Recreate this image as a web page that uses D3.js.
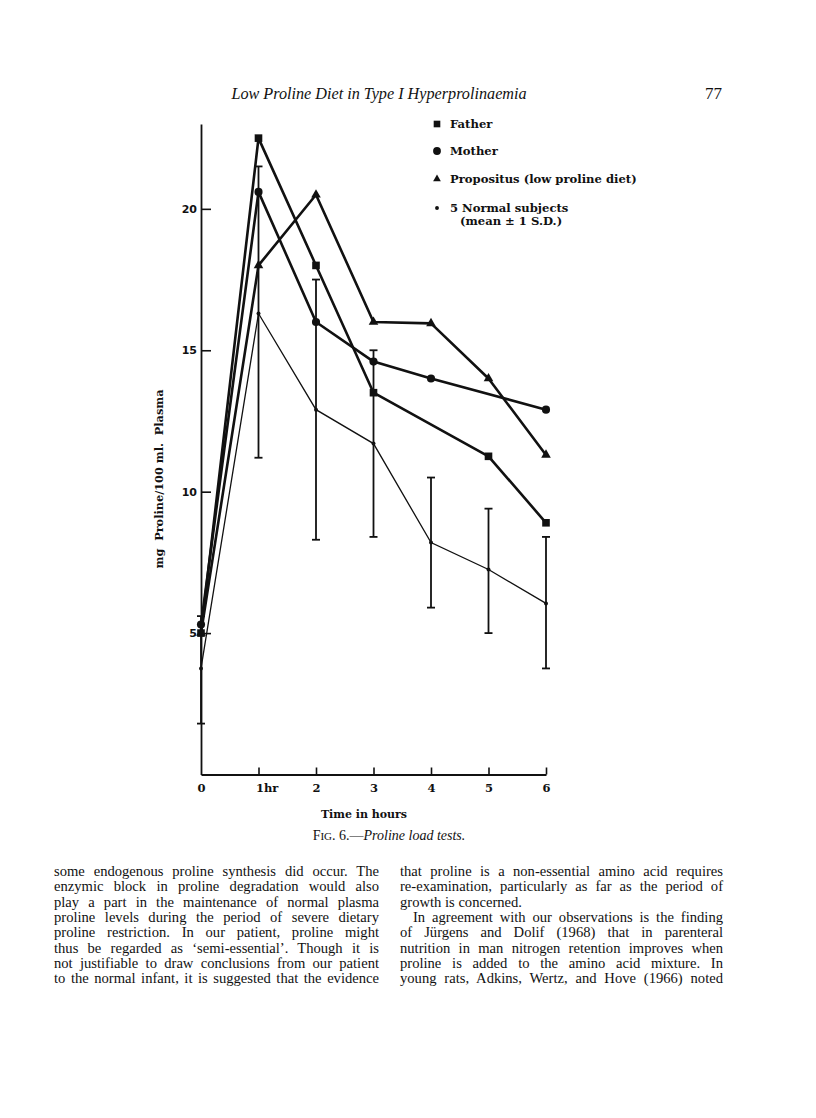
<!DOCTYPE html>
<html>
<head>
<meta charset="utf-8">
<script src="https://cdn.jsdelivr.net/npm/d3@7"></script>
<style>
  body { margin: 0; background: #fff; }
  svg { display: block; }
  text { fill: #111; }
</style>
</head>
<body>
<div id="page"></div>
<script>
// Values (mg proline / 100 ml plasma)
const hours = [0, 1, 2, 3, 4, 5, 6];
const father = [5.0, 22.5, 18.0, 13.5, null, 11.25, 8.9];
const mother = [5.3, 20.6, 16.0, 14.6, 14.0, null, 12.9];
const propositus = [5.0, 18.0, 20.5, 16.0, 15.95, 14.0, 11.3];
const normalMean = [3.75, 16.3, 12.9, 11.7, 8.2, 7.25, 6.05];
const normalLow = [1.8, 11.2, 8.3, 8.4, 5.9, 5.0, 3.75];
const normalHigh = [5.6, 21.5, 17.5, 15.0, 10.5, 9.4, 8.4];

const yTicks = [5, 10, 15, 20];
const xTickLabels = ["0", "1hr", "2", "3", "4", "5", "6"];
const legendLabels = ["Father", "Mother", "Propositus (low proline diet)", "5 Normal subjects"];

const leftColumn = [
  "some endogenous proline synthesis did occur.   The",
  "enzymic block in proline degradation would also",
  "play a part in the maintenance of normal plasma",
  "proline levels during the period of severe dietary",
  "proline restriction.  In our patient, proline might",
  "thus be regarded as \u2018semi-essential\u2019.  Though it is",
  "not justifiable to draw conclusions from our patient",
  "to the normal infant, it is suggested that the evidence"
];
const rightColumn = [
  "that proline is a non-essential amino acid requires",
  "re-examination, particularly as far as the period of",
  "growth is concerned.",
  "In agreement with our observations is the finding",
  "of J\u00fcrgens and Dolif (1968) that in parenteral",
  "nutrition in man nitrogen retention improves when",
  "proline is added to the amino acid mixture.  In",
  "young rats, Adkins, Wertz, and Hove (1966) noted"
];

const W = 816, H = 1118;
const serif = "'Liberation Serif', 'Times New Roman', serif";
const boldSerif = "'DejaVu Serif', serif";

const svg = d3.select("#page").append("svg")
  .attr("width", W)
  .attr("height", H);

// Running head
svg.append("text")
  .attr("x", 379).attr("y", 99)
  .attr("text-anchor", "middle")
  .style("font-family", serif).style("font-style", "italic")
  .style("font-size", "16.2px")
  .text("Low Proline Diet in Type I Hyperprolinaemia");

svg.append("text")
  .attr("x", 722).attr("y", 99)
  .attr("text-anchor", "end")
  .style("font-family", serif).style("font-size", "17px")
  .text("77");

// Scales
var x = d3.scaleLinear().domain([0, 6]).range([201, 546]);
var y = d3.scaleLinear().domain([0, 23]).range([774.5, 124]);

// Y axis (inward ticks)
var yAxis = svg.append("g")
  .attr("transform", "translate(" + x(0) + ",0)")
  .call(d3.axisLeft(y).tickValues(yTicks).tickSize(-10).tickSizeOuter(0).tickPadding(4));
yAxis.selectAll("text")
  .style("font-family", "'DejaVu Sans', sans-serif")
  .style("font-weight", "bold").style("font-size", "11px").style("fill", "#111");

// X axis (inward ticks)
var xAxis = svg.append("g")
  .attr("transform", "translate(0," + y(0) + ")")
  .call(d3.axisBottom(x).tickValues(hours).tickSize(-7).tickSizeOuter(0).tickPadding(9)
    .tickFormat((d, i) => xTickLabels[i]));
xAxis.selectAll("text")
  .style("font-family", boldSerif)
  .style("font-weight", "bold").style("font-size", "11.5px").style("fill", "#111");
xAxis.selectAll(".tick").filter(d => d === 1).select("text")
  .attr("text-anchor", "start").attr("dx", -3);
xAxis.selectAll(".tick").filter(d => d === 0).select("line").remove();

svg.selectAll(".domain").attr("stroke", "#111").attr("stroke-width", 1.8);
svg.selectAll(".tick line").attr("stroke", "#111").attr("stroke-width", 1.6);

// Axis titles
svg.append("text")
  .attr("transform", "translate(163,479) rotate(-90)")
  .attr("text-anchor", "middle")
  .style("font-family", boldSerif).style("font-weight", "bold")
  .style("font-size", "11.3px").style("white-space", "pre")
  .text("mg  Proline/100 ml.  Plasma");

svg.append("text")
  .attr("x", 364).attr("y", 818)
  .attr("text-anchor", "middle")
  .style("font-family", boldSerif).style("font-weight", "bold")
  .style("font-size", "11px")
  .text("Time in hours");

// Caption
var cap = svg.append("text")
  .attr("x", 389).attr("y", 840)
  .attr("text-anchor", "middle")
  .style("font-family", serif).style("font-size", "14px");
cap.append("tspan").text("F");
cap.append("tspan").style("font-size", "11px").text("IG");
cap.append("tspan").text(". 6.\u2014");
cap.append("tspan").style("font-style", "italic").text("Proline load tests.");

// Helper to turn an array into points
const toPoints = (values) => hours.map((h, i) => ({ h: h, v: values[i] })).filter(d => d.v != null);

var line = d3.line().x(d => x(d.h)).y(d => y(d.v));

// Normal subjects: error bars and thin mean line
var bars = hours.map((h, i) => ({ h: h, lo: normalLow[i], hi: normalHigh[i] }));
var eb = svg.append("g").attr("stroke", "#111").attr("stroke-width", 1.8);
eb.selectAll(".ebar").data(bars).enter().append("line")
  .attr("x1", d => x(d.h)).attr("x2", d => x(d.h))
  .attr("y1", d => y(d.lo)).attr("y2", d => y(d.hi));
eb.selectAll(".capHi").data(bars).enter().append("line")
  .attr("x1", d => x(d.h) - 4).attr("x2", d => x(d.h) + 4)
  .attr("y1", d => y(d.hi)).attr("y2", d => y(d.hi));
eb.selectAll(".capLo").data(bars).enter().append("line")
  .attr("x1", d => x(d.h) - 4).attr("x2", d => x(d.h) + 4)
  .attr("y1", d => y(d.lo)).attr("y2", d => y(d.lo));

svg.append("path")
  .datum(toPoints(normalMean))
  .attr("d", line)
  .attr("fill", "none").attr("stroke", "#111").attr("stroke-width", 1.3);

// Heavy series
var series = [
  { values: father, symbol: d3.symbolSquare, size: 58 },
  { values: mother, symbol: d3.symbolCircle, size: 52 },
  { values: propositus, symbol: d3.symbolTriangle, size: 40 }
];

series.forEach(function(s) {
  svg.append("path")
    .datum(toPoints(s.values))
    .attr("d", line)
    .attr("fill", "none").attr("stroke", "#111")
    .attr("stroke-width", 2.6).attr("stroke-linejoin", "round");
  svg.selectAll(null)
    .data(toPoints(s.values))
    .enter().append("path")
    .attr("transform", d => "translate(" + x(d.h) + "," + y(d.v) + ")")
    .attr("d", d3.symbol().type(s.symbol).size(s.size))
    .attr("fill", "#111");
});

svg.selectAll(".normDot")
  .data(toPoints(normalMean))
  .enter().append("circle")
  .attr("cx", d => x(d.h)).attr("cy", d => y(d.v))
  .attr("r", 2).attr("fill", "#111");

// Legend
var legendSymbols = [d3.symbolSquare, d3.symbolCircle, d3.symbolTriangle, d3.symbolCircle];
var legendSizes = [44, 48, 26, 12];
var legendY = [124, 151, 179, 208];
var legend = svg.append("g");
legendLabels.forEach(function(label, i) {
  legend.append("path")
    .attr("transform", "translate(437," + legendY[i] + ")")
    .attr("d", d3.symbol().type(legendSymbols[i]).size(legendSizes[i]))
    .attr("fill", "#111");
  legend.append("text")
    .attr("x", 450).attr("y", legendY[i] + 4)
    .style("font-family", boldSerif).style("font-weight", "bold")
    .style("font-size", "11.6px")
    .text(label);
});
legend.append("text")
  .attr("x", 460).attr("y", 225)
  .style("font-family", boldSerif).style("font-weight", "bold")
  .style("font-size", "11.6px")
  .text("(mean \u00b1 1 S.D.)");

// Body text, justified line by line
function drawColumn(lines, left, right, firstBaseline, indentIdx, lastUnjustified) {
  var g = svg.append("g");
  lines.forEach(function(str, i) {
    var x0 = left + (indentIdx.indexOf(i) >= 0 ? 13 : 0);
    var t = g.append("text")
      .attr("x", x0).attr("y", firstBaseline + i * 15.35)
      .style("font-family", serif).style("font-size", "14.6px")
      .text(str.replace(/\s+/g, " "));
    if (lastUnjustified.indexOf(i) >= 0) return;
    var len = t.node().getComputedTextLength();
    var spaces = (str.replace(/\s+/g, " ").match(/ /g) || []).length;
    if (spaces > 0) t.attr("word-spacing", (right - x0 - len) / spaces);
  });
}
drawColumn(leftColumn, 54, 379, 876, [], []);
drawColumn(rightColumn, 400, 723, 876, [3], [2]);
</script>
</body>
</html>
